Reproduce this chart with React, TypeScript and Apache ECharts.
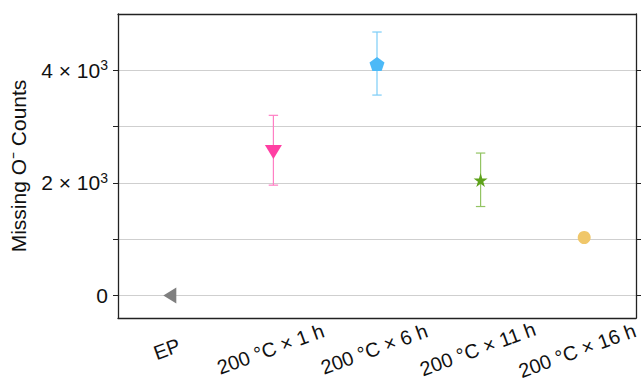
import React, { useEffect, useRef } from "react";
import * as echarts from "echarts";

const categories = ["EP", "200 °C × 1 h", "200 °C × 6 h", "200 °C × 11 h", "200 °C × 16 h"];
const meanValues = [0, 2550, 4110, 2050, 1030];
const errLow = [null, 1960, 3560, 1580, null];
const errHigh = [null, 3200, 4680, 2530, null];
const markerColors = ["#7f7f7f", "#ff3fa3", "#4cb9f7", "#5ea21b", "#f0c76a"];
const errColors = ["#7f7f7f", "#ff7fc4", "#7ccdf7", "#93c463", "#f0c76a"];
const yTickValues = [0, 1000, 2000, 3000, 4000];
const yLabelValues = [0, 2000, 4000];

const PENT = "path://M0,-1 L0.951,-0.309 L0.588,0.809 L-0.588,0.809 L-0.951,-0.309 Z";
const STAR =
  "path://M0,-1 L0.225,-0.309 L0.951,-0.309 L0.363,0.118 L0.588,0.809 L0,0.382 L-0.588,0.809 L-0.363,0.118 L-0.951,-0.309 L-0.225,-0.309 Z";
const symbols = ["triangle", "triangle", PENT, STAR, "circle"];
const rotations = [90, 180, 0, 0, 0];
const sizes: any[] = [[16, 13], [17, 14], [15, 14], 14, 13];

const FONT = "'Liberation Sans', Arial, sans-serif";

export default function App() {
  const ref = useRef<HTMLDivElement>(null);
  useEffect(() => {
    if (!ref.current) return;
    const chart = echarts.init(ref.current, undefined, { renderer: "svg" });
    const errData = categories
      .map((c, i) => [i, errLow[i], errHigh[i]])
      .filter((d) => d[1] !== null);
    const lab = { fontSize: 20, fontFamily: FONT, color: "#111", lineHeight: 20 };
    chart.setOption({
      animation: false,
      grid: { left: 118, right: 8, top: 14, bottom: 63, containLabel: false, outerBoundsMode: "none" },
      xAxis: [
        {
          type: "category",
          data: categories,
          boundaryGap: true,
          axisLine: { onZero: false, lineStyle: { color: "#222", width: 1.3 } },
          axisTick: { alignWithLabel: true, length: 6, lineStyle: { color: "#222" } },
          axisLabel: {
            rotate: 20,
            align: "center",
            verticalAlign: "middle",
            margin: 30,
            hideOverlap: false,
            ...lab,
            formatter: (v: string, i: number) => (i === 4 ? `{last|${v}}` : `{n|${v}}`),
            rich: {
              n: { ...lab, padding: [0, 6, 0, 0] },
              last: { ...lab, width: 108, align: "right", overflow: "none" },
            },
          },
        },
        {
          type: "category",
          data: categories,
          position: "top",
          boundaryGap: true,
          axisLine: { onZero: false, lineStyle: { color: "#222", width: 1.3 } },
          axisTick: { alignWithLabel: true, length: 6, lineStyle: { color: "#222" } },
          axisLabel: { show: false },
        },
      ],
      yAxis: [
        {
          type: "value",
          min: -400,
          max: 5000,
          name: "Missing O⁻ Counts",
          nameLocation: "middle",
          nameGap: 89,
          nameTextStyle: { fontSize: 21, fontFamily: FONT, color: "#111" },
          axisLine: { show: true, onZero: false, lineStyle: { color: "#222", width: 1.3 } },
          axisTick: { show: true, length: 5, customValues: yTickValues, lineStyle: { color: "#222" } },
          splitLine: { show: true, lineStyle: { color: "#cfcfcf", width: 1 } },
          axisLabel: {
            customValues: yLabelValues,
            margin: 10,
            fontSize: 21,
            fontFamily: FONT,
            color: "#111",
            formatter: (v: number) => (v === 0 ? "0" : `{b|${v / 1000} × 10}{sup|3}`),
            rich: {
              b: { fontSize: 21, fontFamily: FONT, color: "#111" },
              sup: { fontSize: 14, fontFamily: FONT, color: "#111", padding: [0, 0, 10, 0] },
            },
          },
        },
        {
          type: "value",
          min: -400,
          max: 5000,
          position: "right",
          axisLine: { show: true, onZero: false, lineStyle: { color: "#222", width: 1.3 } },
          axisTick: { show: true, length: 5, customValues: yTickValues, lineStyle: { color: "#222" } },
          splitLine: { show: false },
          axisLabel: { show: false },
        },
      ],
      series: [
        {
          type: "custom",
          xAxisIndex: 0,
          yAxisIndex: 0,
          data: errData,
          z: 2,
          renderItem: (params: any, api: any) => {
            const i = api.value(0);
            const lo = api.coord([i, api.value(1)]);
            const hi = api.coord([i, api.value(2)]);
            const w = 4.7;
            const color = errColors[i];
            const style = { stroke: color, lineWidth: 1.2 };
            return {
              type: "group",
              children: [
                { type: "line", shape: { x1: lo[0], y1: lo[1], x2: hi[0], y2: hi[1] }, style },
                { type: "line", shape: { x1: lo[0] - w, y1: lo[1], x2: lo[0] + w, y2: lo[1] }, style },
                { type: "line", shape: { x1: hi[0] - w, y1: hi[1], x2: hi[0] + w, y2: hi[1] }, style },
              ],
            };
          },
        },
        {
          type: "scatter",
          xAxisIndex: 0,
          yAxisIndex: 0,
          z: 3,
          data: meanValues.map((v, i) => ({
            value: [i, v],
            symbol: symbols[i],
            symbolRotate: rotations[i],
            symbolSize: sizes[i],
            itemStyle: { color: markerColors[i], opacity: 1 },
          })),
        },
      ],
    });
    return () => chart.dispose();
  }, []);
  return <div ref={ref} style={{ position: "absolute", left: 0, top: 0, width: 644, height: 381 }} />;
}
